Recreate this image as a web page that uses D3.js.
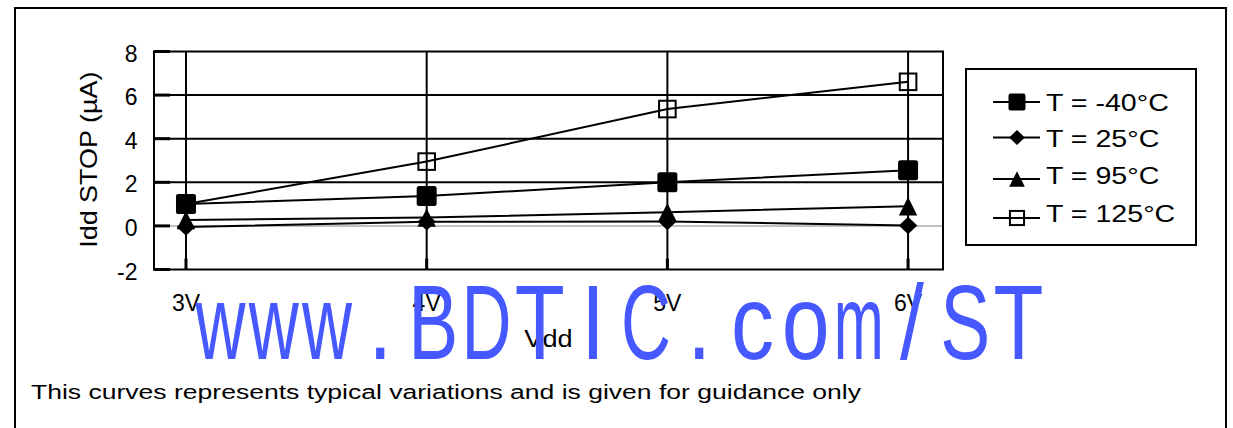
<!DOCTYPE html>
<html>
<head>
<meta charset="utf-8">
<script src="https://cdn.jsdelivr.net/npm/d3@7"></script>
<style>
  html, body { margin: 0; padding: 0; background: #fff; }
  svg { display: block; }
  text { font-family: "Liberation Sans", Arial, sans-serif; fill: #000; }
</style>
</head>
<body>
<svg id="chart" width="1233" height="428"></svg>
<script>
// ---- data ----
const categories = ["3V", "4V", "5V", "6V"];
const seriesNames = ["T = -40°C", "T = 25°C", "T = 95°C", "T = 125°C"];
const tMinus40 = [1.0, 1.37, 2.0, 2.55];
const t25 = [-0.05, 0.19, 0.2, 0.02];
const t95 = [0.27, 0.38, 0.63, 0.9];
const t125 = [1.0, 2.95, 5.36, 6.61];
const yTicks = [-2, 0, 2, 4, 6, 8];
const yLabel = "Idd STOP (µA)";
const xLabel = "Vdd";
const footnote = "This curves represents typical variations and is given for guidance only";
const watermark = "www.BDTIC.com/ST";

const series = [
  { name: seriesNames[0], values: tMinus40, marker: "fsquare" },
  { name: seriesNames[1], values: t25, marker: "diamond" },
  { name: seriesNames[2], values: t95, marker: "triangle" },
  { name: seriesNames[3], values: t125, marker: "osquare" }
];

const svg = d3.select("#chart");
const plot = { left: 154, right: 943, top: 51.5, bottom: 269.5 };

const x = d3.scalePoint().domain(categories).range([plot.left, plot.right]).padding(0.139).align(0.478);
const y = d3.scaleLinear().domain([-2, 8]).range([plot.bottom, plot.top]);

function stretch(sel, f) {
  sel.each(function () {
    const l = this.getComputedTextLength();
    d3.select(this).attr("textLength", l * f).attr("lengthAdjust", "spacingAndGlyphs");
  });
}

function drawMarker(g, type, scale) {
  const s = scale || 1;
  if (type === "fsquare") {
    const h = 10 * s;
    g.append("rect").attr("x", -h).attr("y", -h).attr("width", 2 * h).attr("height", 2 * h)
      .attr("rx", 2.5 * s).attr("fill", "#000");
  } else if (type === "diamond") {
    const w = 9.2 * s, hh = 8.8 * s;
    g.append("path").attr("d", `M0,${-hh}L${w},0L0,${hh}L${-w},0Z`).attr("fill", "#000");
  } else if (type === "triangle") {
    const w = 9.2 * s;
    g.append("path").attr("d", `M0,${-w}L${w},${w}L${-w},${w}Z`).attr("fill", "#000");
  } else if (type === "osquare") {
    const h = 8.3 * s;
    g.append("rect").attr("x", -h).attr("y", -h).attr("width", 2 * h).attr("height", 2 * h)
      .attr("fill", "none").attr("stroke", "#000").attr("stroke-width", 2);
  }
}

// outer frame (no bottom edge)
svg.append("path").attr("d", "M15,430V8H1226V430")
  .attr("fill", "none").attr("stroke", "#000").attr("stroke-width", 2);

// gridlines
const grid = svg.append("g");
grid.selectAll("line.h").data(yTicks.filter(v => v !== -2 && v !== 8)).join("line")
  .attr("x1", plot.left).attr("x2", plot.right)
  .attr("y1", d => y(d)).attr("y2", d => y(d))
  .attr("stroke", d => d === 0 ? "#c0c0c0" : "#000").attr("stroke-width", 2);
grid.selectAll("line.v").data(categories).join("line")
  .attr("x1", d => x(d)).attr("x2", d => x(d))
  .attr("y1", plot.top).attr("y2", plot.bottom)
  .attr("stroke", "#000").attr("stroke-width", 2);

// ticks (inside)
grid.selectAll("line.yt").data(yTicks).join("line")
  .attr("x1", plot.left).attr("x2", plot.left + 16)
  .attr("y1", d => y(d)).attr("y2", d => y(d))
  .attr("stroke", "#000").attr("stroke-width", 3);
grid.selectAll("line.xt").data(categories).join("line")
  .attr("x1", d => x(d)).attr("x2", d => x(d))
  .attr("y1", plot.bottom).attr("y2", plot.bottom - 11)
  .attr("stroke", "#000").attr("stroke-width", 3);

// plot border
svg.append("rect").attr("x", plot.left).attr("y", plot.top)
  .attr("width", plot.right - plot.left).attr("height", plot.bottom - plot.top)
  .attr("fill", "none").attr("stroke", "#000").attr("stroke-width", 2);

// y tick labels
svg.append("g").selectAll("text").data(yTicks).join("text")
  .attr("x", 137.5).attr("y", d => y(d) + 10)
  .attr("text-anchor", "end").attr("font-size", 23)
  .text(d => d);

// y axis label
const yl = svg.append("text")
  .attr("transform", "translate(96.5,159.7) rotate(-90)")
  .attr("text-anchor", "middle").attr("font-size", 24.5)
  .text(yLabel);
stretch(yl, 1.1);

// series
const line = d3.line().x((d, i) => x(categories[i])).y(d => y(d));
series.forEach(s => {
  svg.append("path").attr("d", line(s.values))
    .attr("fill", "none").attr("stroke", "#000").attr("stroke-width", 2);
});
series.forEach(s => {
  s.values.forEach((v, i) => {
    const g = svg.append("g").attr("transform", `translate(${x(categories[i])},${y(v)})`);
    drawMarker(g, s.marker, 1);
  });
});

// legend
svg.append("rect").attr("x", 966).attr("y", 69).attr("width", 230).attr("height", 176)
  .attr("fill", "#fff").attr("stroke", "#000").attr("stroke-width", 2);
const legSymY = [102, 137.5, 179, 218];
const legTextY = [111, 147, 184, 222];
series.forEach((s, i) => {
  svg.append("line").attr("x1", 993).attr("x2", 1040)
    .attr("y1", legSymY[i]).attr("y2", legSymY[i])
    .attr("stroke", "#000").attr("stroke-width", 2);
  const g = svg.append("g").attr("transform", `translate(1017,${legSymY[i]})`);
  drawMarker(g, s.marker, 0.85);
  const t = svg.append("text").attr("x", 1046).attr("y", legTextY[i])
    .attr("font-size", 24).text(s.name);
  stretch(t, 1.19);
});

// x labels
svg.append("g").selectAll("text").data(categories).join("text")
  .attr("x", d => x(d)).attr("y", 311)
  .attr("text-anchor", "middle").attr("font-size", 23)
  .text(d => d);

const xl = svg.append("text").attr("x", (plot.left + plot.right) / 2).attr("y", 347)
  .attr("text-anchor", "middle").attr("font-size", 23).text(xLabel);
stretch(xl, 1.18);

// footnote
const fn = svg.append("text").attr("x", 31).attr("y", 398.5)
  .attr("font-size", 20).text(footnote);
fn.attr("textLength", 830).attr("lengthAdjust", "spacingAndGlyphs");

// watermark: monospaced cells, condensed sans glyphs
const wmChars = watermark.split("");
const wmX = d3.scaleBand().domain(d3.range(wmChars.length)).range([194, 1045]);
const wm = svg.append("g").attr("aria-label", watermark);
wmChars.forEach((ch, i) => {
  const cx = wmX(i) + wmX.bandwidth() / 2;
  const g = wm.append("g").attr("transform", `translate(${cx},359)`);
  const t = g.append("text").attr("x", 0).attr("y", 0)
    .attr("text-anchor", "middle").attr("font-size", 105)
    .style("fill", "rgb(70,88,255)").text(ch);
  const adv = t.node().getComputedTextLength();
  const sx = Math.min(0.82, 50 / adv);
  t.attr("transform", `scale(${sx},1)`);
});
</script>
</body>
</html>
